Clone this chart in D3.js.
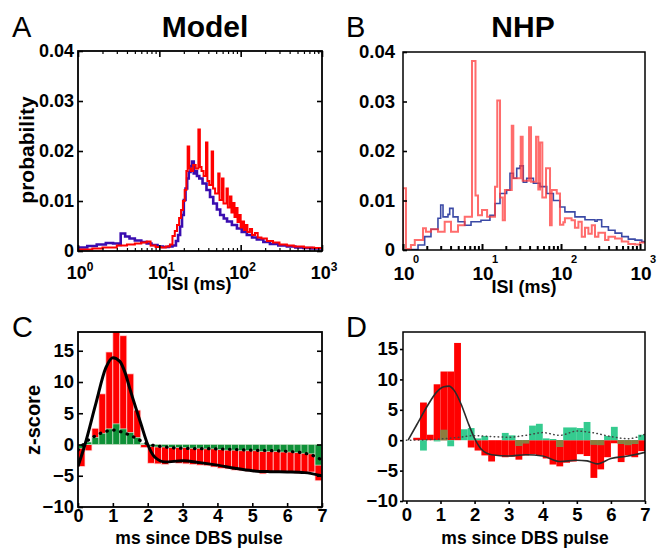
<!DOCTYPE html>
<html lang="en">
<head>
<meta charset="UTF-8">
<title>isi-and-psth-panels</title>
<style>
  body { margin: 0; background: #fff; }
  svg { display: block; font-family: "Liberation Sans", Arial, sans-serif; }
  .tick text { font-weight: bold; fill: #000; }
</style>
</head>
<body>
<div id="container"></div>
<script src="https://cdn.jsdelivr.net/npm/d3@7"></script>
<script>

// ---- A: model ISI histograms (ms, probability), step after each point ----
var modelRedIsi = [1.0, 1.5, 2.0, 3.0, 4.0, 5.0, 6.0, 7.0, 7.8, 9.0, 10.5, 12.0, 13.5, 14.5, 15.5, 16.5, 17.5, 18.5, 19.5, 20.5,
  21.5, 22.3, 23.3, 24.5, 26.0, 28.0, 30.2, 31.5, 33.0, 35.0, 37.5, 39.0, 41.0, 44.0, 45.8, 48.5, 53.0, 55.0, 59.0, 61.5,
  67.0, 69.5, 74.0, 77.0, 81.0, 84.0, 88.0, 91.5, 96.0, 100, 105, 110, 115, 121, 130, 138, 150, 162, 180, 210,
  250, 300, 370, 450, 600, 800, 1000];
var modelRedProb = [0.0003, 0.0005, 0.0007, 0.0011, 0.0013, 0.0015, 0.0017, 0.0019, 0.0011, 0.0008, 0.0007, 0.0009, 0.0013, 0.0030, 0.0040, 0.0052, 0.0066, 0.0082, 0.0100, 0.0122,
  0.0160, 0.0209, 0.0165, 0.0160, 0.0172, 0.0165, 0.0243, 0.0168, 0.0160, 0.0150, 0.0217, 0.0140, 0.0132, 0.0199, 0.0125, 0.0115, 0.0155, 0.0102, 0.0145, 0.0095,
  0.0125, 0.0087, 0.0109, 0.0077, 0.0096, 0.0068, 0.0086, 0.0058, 0.0072, 0.0047, 0.0059, 0.0042, 0.0052, 0.0038, 0.0044, 0.0032, 0.0036, 0.0027, 0.0025, 0.0020,
  0.0017, 0.0013, 0.0011, 0.0009, 0.0007, 0.0006, 0.0006];
var modelBlueIsi = [1.0, 1.3, 1.7, 2.2, 2.7, 3.2, 3.35, 3.8, 4.3, 5.0, 6.0, 7.0, 8.0, 9.5, 11.0, 13.0, 14.5, 16.0, 17.0, 18.0,
  19.0, 20.0, 21.0, 22.0, 23.0, 24.2, 25.2, 26.5, 27.5, 29.0, 31, 34, 38, 42, 46, 51, 56, 62, 68, 78,
  90, 103, 119, 138, 158, 190, 229, 290, 370, 470, 590, 750, 1000];
var modelBlueProb = [0.0007, 0.0010, 0.0013, 0.0016, 0.0015, 0.0012, 0.0035, 0.0029, 0.0025, 0.0021, 0.0018, 0.0015, 0.0012, 0.0009, 0.0008, 0.0009, 0.0011, 0.0020, 0.0032, 0.0049,
  0.0072, 0.0102, 0.0125, 0.0145, 0.0158, 0.0170, 0.0179, 0.0155, 0.0160, 0.0150, 0.0145, 0.0135, 0.0122, 0.0108, 0.0095, 0.0083, 0.0072, 0.0065, 0.0059, 0.0052,
  0.0045, 0.0038, 0.0032, 0.0027, 0.0023, 0.0018, 0.0014, 0.0011, 0.0009, 0.0007, 0.0006, 0.0005, 0.0004];

// ---- B: NHP ISI histograms ----
var nhpRedIsi = [1.0, 1.0, 1.09, 1.26, 1.41, 1.79, 1.95, 2.26, 2.77, 3.37, 4.05, 4.97, 6.04, 7.47, 8.27, 8.9, 10.0, 11.6, 14.6, 15.6,
  16.9, 18.3, 19.5, 23.8, 24.9, 30.9, 32.7, 39.4, 41.7, 48.3, 51.6, 54.2, 58.0, 64.6, 72.6, 76.2, 88.3, 97, 107, 112,
  136, 150, 166, 183, 201, 222, 245, 269, 297, 361, 398, 483, 587, 711, 865, 1000, 1156];
var nhpRedProb = [0, 0.0125, 0.0002, 0.001, 0.002, 0.0044, 0.0037, 0.0042, 0.0037, 0.0057, 0.0037, 0.005, 0.0067, 0.0382, 0.011, 0.007, 0.0081, 0.0067, 0.0128, 0.0302,
  0.0106, 0.006, 0.0121, 0.0251, 0.0145, 0.0229, 0.014, 0.0248, 0.0138, 0.0229, 0.0122, 0.0217, 0.0106, 0.0165, 0.005, 0.0121, 0.0114, 0.0051, 0.0056, 0.0064,
  0.006, 0.0045, 0.0057, 0.0027, 0.0045, 0.0033, 0.005, 0.0027, 0.0035, 0.002, 0.0027, 0.0023, 0.0017, 0.0012, 0.0011, 0.0015, 0.0015];
var nhpBlueIsi = [1.26, 1.55, 1.88, 2.26, 2.77, 3.0, 3.21, 3.71, 3.9, 4.3, 4.97, 6.04, 7.26, 9.7, 12.6, 14.6, 16.9, 20.5, 22.6, 24.9,
  27.5, 30.3, 33.3, 36.8, 44.7, 54.2, 65.9, 80, 97, 112, 150, 201, 269, 286, 327, 398, 483, 587, 711, 865, 1052, 1156];
var nhpBlueProb = [0.0001, 0.001, 0.0027, 0.0042, 0.0064, 0.0091, 0.0067, 0.0072, 0.0084, 0.0067, 0.0057, 0.005, 0.0057, 0.006, 0.007, 0.0094, 0.0114, 0.0121, 0.0155, 0.0145,
  0.0165, 0.017, 0.0137, 0.0145, 0.0135, 0.0128, 0.0114, 0.01, 0.0087, 0.0077, 0.0067, 0.0061, 0.0058, 0.0061, 0.0047, 0.004, 0.0034, 0.0027, 0.0022, 0.002, 0.0017, 0.0017];

// ---- C / D: z-score vs time since DBS pulse, 0.2 ms bins ----
var binStart = [0, 0.2, 0.4, 0.6, 0.8, 1.0, 1.2, 1.4, 1.6, 1.8, 2.0, 2.2, 2.4, 2.6, 2.8, 3.0, 3.2, 3.4,
  3.6, 3.8, 4.0, 4.2, 4.4, 4.6, 4.8, 5.0, 5.2, 5.4, 5.6, 5.8, 6.0, 6.2, 6.4, 6.6, 6.8];
var binWidth = 0.2;

var modelRedZ = [-3.5, -1.0, 2.6, 8.1, 14.8, 18.5, 17.4, 11.3, 5.5, -0.5, -3.0, -3.1, -3.2, -2.9, -3.0, -3.1, -3.2, -3.3,
  -3.4, -3.6, -3.8, -3.9, -4.1, -4.2, -4.3, -4.4, -4.7, -4.5, -4.5, -4.4, -4.5, -4.6, -4.5, -4.4, -5.8];
var modelGreenZ = [-0.6, 0.4, 1.1, 1.8, 2.5, 3.3, 2.5, 1.9, 1.1, 0.2, -0.3, -0.4, -0.4, -0.5, -0.5, -0.5, -0.6, -0.6,
  -0.7, -0.7, -0.8, -0.9, -0.9, -1.0, -1.0, -1.0, -1.1, -1.1, -1.1, -1.2, -1.2, -1.3, -1.4, -1.5, -3.3];
var modelLineMs = [0, 0.2, 0.5, 0.8, 1.0, 1.2, 1.35, 1.5, 1.8, 2.0, 2.2, 2.5, 3.0, 3.5, 4.0, 4.5, 5.0, 5.5, 6.0, 6.5, 7.0];
var modelLineZ = [-3.5, 0, 6.3, 12.3, 13.9, 13.3, 11.5, 8.7, 3.4, 0, -2.0, -2.8, -2.6, -2.9, -3.3, -3.8, -4.2, -4.35, -4.4, -4.5, -5.0];
var modelDotMs = [0, 0.25, 0.5, 0.75, 1.0, 1.3, 1.6, 1.8, 2.0, 2.5, 3, 4, 5, 6, 6.5, 6.8, 7];
var modelDotZ = [-0.9, 0.5, 1.4, 2.0, 2.3, 1.9, 1.2, 0.6, 0.1, -0.4, -0.6, -0.7, -0.9, -1.1, -1.4, -1.9, -2.5];

var nhpRedZ = [0, 0.4, 6.2, 0.9, 9.2, 11.3, 11.3, 16.0, 0, -1.2, -1.7, -2.5, -3.5, -2.5, -2.8, -2.7, -3.2, -2.5,
  -2.3, -2.5, -3.0, -4.0, -4.3, -3.7, -3.5, -2.3, -2.6, -6.2, -4.8, -2.8, -0.5, -3.6, -2.5, -2.8, -1.8];
var nhpGreenZ = [0, 0, -1.7, 0, -0.2, 1.7, -1.0, 0, 1.8, 2.0, 0.3, 0.7, 0, 0, 1.2, 0.8, -0.9, -0.5,
  2.4, 2.7, 0.3, 0.2, -1.1, 2.1, 2.1, 2.0, 3.0, -0.7, -0.8, 0.7, 2.2, -0.6, -0.8, -0.6, 0.9];
var nhpLineMs = [0.05, 0.3, 0.6, 0.9, 1.1, 1.25, 1.4, 1.6, 1.8, 2.0, 2.2, 2.5, 3.0, 3.5, 4.0, 4.5, 5.0, 5.3, 5.6, 6.0, 6.5, 7.0];
var nhpLineZ = [0, 2.5, 5.5, 8.0, 8.8, 8.9, 8.2, 6.0, 3.0, 0.3, -1.5, -2.4, -2.6, -2.4, -2.6, -3.5, -3.3, -3.4, -3.9, -3.0, -2.6, -2.0];
var nhpDotMs = [0, 0.5, 1.0, 1.5, 2.0, 2.5, 3.0, 3.5, 4.0, 4.5, 5.0, 5.5, 6.0, 6.5, 7.0];
var nhpDotZ = [0, 0.05, 0.2, 0.45, 0.75, 0.6, 0.5, 0.8, 1.25, 0.8, 1.5, 1.2, 0.6, 0.25, 1.0];

// ---- ticks ----
var probTicks = [0, 0.01, 0.02, 0.03, 0.04];
var decadeTicks = [1, 10, 100, 1000];
var decadeExp = ["0", "1", "2", "3"];
var minorIsiTicks = [2, 3, 4, 5, 6, 7, 8, 9, 20, 30, 40, 50, 60, 70, 80, 90, 200, 300, 400, 500, 600, 700, 800, 900];
var zTicks = [-10, -5, 0, 5, 10, 15];
var msTicks = [0, 1, 2, 3, 4, 5, 6, 7];

var W = 664, H = 548;
var svg = d3.select("#container").append("svg").attr("width", W).attr("height", H);

var xA = d3.scaleLog().domain([1, 1000]).range([78, 322]);
var yA = d3.scaleLinear().domain([0, 0.04]).range([251, 51]);
var xB = d3.scaleLog().domain([1, 1156]).range([403, 645]);
var yB = d3.scaleLinear().domain([0, 0.04]).range([250, 52]);
var xC = d3.scaleLinear().domain([0, 7]).range([78, 322]);
var yC = d3.scaleLinear().domain([-10, 18]).range([507, 332]);
var xD = d3.scaleLinear().domain([-0.1, 7]).range([403, 645]);
var yD = d3.scaleLinear().domain([-10, 17.8]).range([501, 332]);

function clipFor(id, x, y) {
  svg.append("clipPath").attr("id", id).append("rect")
    .attr("x", x.range()[0]).attr("y", y.range()[1])
    .attr("width", x.range()[1] - x.range()[0]).attr("height", y.range()[0] - y.range()[1]);
  return svg.append("g").attr("clip-path", "url(#" + id + ")");
}

function stepPath(g, x, y, xs, ys, color, w, op) {
  var line = d3.line().x(function(d) { return x(d[0]); }).y(function(d) { return y(d[1]); }).curve(d3.curveStepAfter);
  g.append("path").datum(d3.zip(xs, ys)).attr("d", line)
    .attr("fill", "none").attr("stroke", color).attr("stroke-width", w)
    .attr("stroke-opacity", op || 1).attr("stroke-linejoin", "miter");
}

function smoothPath(g, x, y, xs, ys, color, w, dash) {
  var line = d3.line().x(function(d) { return x(d[0]); }).y(function(d) { return y(d[1]); }).curve(d3.curveMonotoneX);
  var p = g.append("path").datum(d3.zip(xs, ys)).attr("d", line)
    .attr("fill", "none").attr("stroke", color).attr("stroke-width", w);
  if (dash) p.attr("stroke-dasharray", dash).attr("stroke-linecap", "round");
}

function box(x, y, w) {
  svg.append("rect").attr("x", x.range()[0]).attr("y", y.range()[1])
    .attr("width", x.range()[1] - x.range()[0]).attr("height", y.range()[0] - y.range()[1])
    .attr("fill", "none").attr("stroke", "#000").attr("stroke-width", w);
}

function styleAxis(g, fs, sw) {
  g.select(".domain").remove();
  g.selectAll(".tick line").attr("stroke", "#000").attr("stroke-width", sw);
  g.selectAll(".tick text").attr("font-size", fs);
}

function bars(g, x, y, vals, color, stroke) {
  g.selectAll(null).data(d3.zip(binStart, vals)).enter().append("rect")
    .attr("x", function(d) { return x(d[0]); })
    .attr("width", function(d) { return x(d[0] + binWidth) - x(d[0]); })
    .attr("y", function(d) { return y(Math.max(0, d[1])); })
    .attr("height", function(d) { return Math.abs(y(d[1]) - y(0)); })
    .attr("fill", color)
    .attr("stroke", stroke || "none").attr("stroke-width", stroke ? 0.7 : 0);
}

var probFmt = function(d) { return d === 0 ? "0" : d.toFixed(2); };
var intFmt = d3.format("d");

// ================= Panel A =================
var gA = clipFor("clipA", xA, yA);
stepPath(gA, xA, yA, modelBlueIsi, modelBlueProb, "#3a0db0", 2.6);
stepPath(gA, xA, yA, modelRedIsi, modelRedProb, "#ff0000", 2);

svg.append("g").attr("transform", "translate(78,0)")
  .call(d3.axisLeft(yA).tickValues(probTicks).tickSize(-5).tickPadding(4).tickFormat(probFmt))
  .call(styleAxis, 18, 1.6);
svg.append("g").attr("transform", "translate(322,0)")
  .call(d3.axisRight(yA).tickValues(probTicks).tickSize(-5).tickFormat(""))
  .call(styleAxis, 18, 1.6);
[[251, d3.axisBottom], [51, d3.axisTop]].forEach(function(a) {
  svg.append("g").attr("transform", "translate(0," + a[0] + ")")
    .call(a[1](xA).tickValues(minorIsiTicks).tickSize(-3).tickFormat(""))
    .call(styleAxis, 18, 1.2);
  svg.append("g").attr("transform", "translate(0," + a[0] + ")")
    .call(a[1](xA).tickValues(decadeTicks).tickSize(-6).tickFormat(""))
    .call(styleAxis, 18, 1.6);
});
box(xA, yA, 1.8);
decadeTicks.forEach(function(d, i) {
  var t = svg.append("text").attr("x", xA(d) + 2).attr("y", 279)
    .attr("text-anchor", "middle").attr("font-size", 18).attr("font-weight", "bold").text("10");
  t.append("tspan").attr("dy", -8).attr("font-size", 12).text(decadeExp[i]);
});

// ================= Panel B =================
var gB = clipFor("clipB", xB, yB);
stepPath(gB, xB, yB, nhpBlueIsi, nhpBlueProb, "#3b4aa6", 1.6);
stepPath(gB, xB, yB, nhpRedIsi, nhpRedProb, "#ff3b3b", 2, 0.75);

svg.append("g").attr("transform", "translate(403,0)")
  .call(d3.axisLeft(yB).tickValues(probTicks).tickSize(-4).tickPadding(8).tickFormat(probFmt))
  .call(styleAxis, 18.5, 1.6);
svg.append("g").attr("transform", "translate(0,250)")
  .call(d3.axisBottom(xB).tickValues(minorIsiTicks).tickSize(-4).tickFormat(""))
  .call(styleAxis, 18, 2);
svg.append("g").attr("transform", "translate(0,250)")
  .call(d3.axisBottom(xB).tickValues(decadeTicks).tickSize(-6).tickFormat(""))
  .call(styleAxis, 18, 2);
box(xB, yB, 1.5);
decadeTicks.forEach(function(d, i) {
  svg.append("text").attr("x", xB(d) + 1).attr("y", 280)
    .attr("text-anchor", "middle").attr("font-size", 19).attr("font-weight", "bold").text("10");
  svg.append("text").attr("x", xB(d) + 13).attr("y", 263)
    .attr("text-anchor", "middle").attr("font-size", 11).attr("font-weight", "bold").text(decadeExp[i]);
});

// ================= Panel C =================
var gC = clipFor("clipC", xC, yC);
bars(gC, xC, yC, modelRedZ, "#ff0000", "#ffd8d8");
bars(gC, xC, yC, modelGreenZ, "#0f9138", "#c8e8cf");
smoothPath(gC, xC, yC, modelLineMs, modelLineZ, "#000", 3);
smoothPath(gC, xC, yC, modelDotMs, modelDotZ, "#000", 3.2, "0.5,6.5");

svg.append("g").attr("transform", "translate(78,0)")
  .call(d3.axisLeft(yC).tickValues(zTicks).tickSize(-5).tickPadding(4).tickFormat(intFmt))
  .call(styleAxis, 18.5, 1.6);
svg.append("g").attr("transform", "translate(322,0)")
  .call(d3.axisRight(yC).tickValues(zTicks).tickSize(-5).tickFormat(""))
  .call(styleAxis, 18, 1.6);
svg.append("g").attr("transform", "translate(0,507)")
  .call(d3.axisBottom(xC).tickValues(msTicks).tickSize(-4).tickPadding(2).tickFormat(intFmt))
  .call(styleAxis, 18, 1.6);
box(xC, yC, 1.8);

// ================= Panel D =================
var gD = clipFor("clipD", xD, yD);
bars(gD, xD, yD, nhpRedZ, "#ff0000");
bars(gD, xD, yD, nhpGreenZ, "#35cb8f");
// where the two histograms overlap with the same sign, the mix shows olive
var overlapZ = nhpGreenZ.map(function(g, i) {
  var r = nhpRedZ[i];
  return g * r > 0 ? Math.sign(g) * Math.min(Math.abs(g), Math.abs(r)) : 0;
});
bars(gD, xD, yD, overlapZ, "#8c7c3e");
smoothPath(gD, xD, yD, nhpLineMs, nhpLineZ, "#2b2b2b", 1.6);
smoothPath(gD, xD, yD, nhpDotMs, nhpDotZ, "#444", 1.5, "0.5,3.5");

svg.append("g").attr("transform", "translate(403,0)")
  .call(d3.axisLeft(yD).tickValues(zTicks).tickSize(3).tickPadding(2).tickFormat(intFmt))
  .call(styleAxis, 18.5, 1.6);
svg.append("g").attr("transform", "translate(0,501)")
  .call(d3.axisBottom(xD).tickValues(msTicks).tickSize(3).tickPadding(4).tickFormat(intFmt))
  .call(styleAxis, 18.5, 1.6);
box(xD, yD, 1.5);

// ================= titles and labels =================
var labels = [
  {t: "A", x: 12, y: 37, s: 29, w: "normal", a: "start"},
  {t: "B", x: 346, y: 37, s: 29, w: "normal", a: "start"},
  {t: "C", x: 12, y: 337, s: 29, w: "normal", a: "start"},
  {t: "D", x: 346, y: 337, s: 29, w: "normal", a: "start"},
  {t: "Model", x: 205, y: 37, s: 30, w: "bold", a: "middle"},
  {t: "NHP", x: 523, y: 37, s: 30, w: "bold", a: "middle"},
  {t: "ISI (ms)", x: 199, y: 290, s: 18, w: "bold", a: "middle"},
  {t: "ISI (ms)", x: 524, y: 293, s: 18, w: "bold", a: "middle"},
  {t: "ms since DBS pulse", x: 199, y: 544, s: 17.5, w: "bold", a: "middle"},
  {t: "ms since DBS pulse", x: 525, y: 544, s: 17.5, w: "bold", a: "middle"}
];
svg.selectAll(null).data(labels).enter().append("text")
  .attr("x", function(d) { return d.x; }).attr("y", function(d) { return d.y; })
  .attr("font-size", function(d) { return d.s; })
  .attr("font-weight", function(d) { return d.w; })
  .attr("text-anchor", function(d) { return d.a; })
  .text(function(d) { return d.t; });

svg.append("text").attr("transform", "translate(34,150) rotate(-90)")
  .attr("text-anchor", "middle").attr("font-size", 21).attr("font-weight", "bold").text("probability");
svg.append("text").attr("transform", "translate(40,420) rotate(-90)")
  .attr("text-anchor", "middle").attr("font-size", 20).attr("font-weight", "bold").text("z-score");

</script>
</body>
</html>
